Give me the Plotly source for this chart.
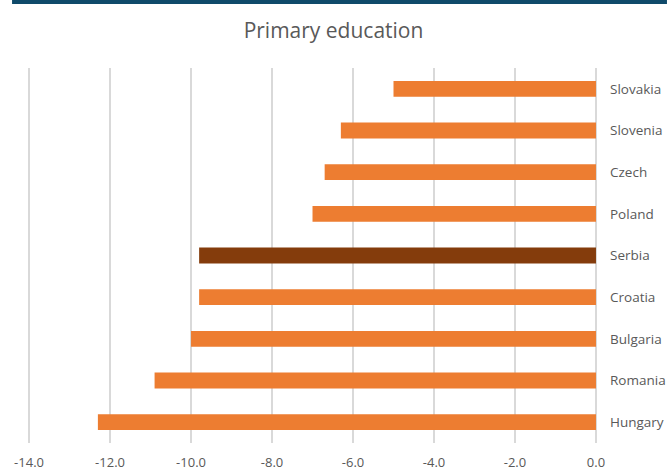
import plotly.graph_objects as go

# Change in primary education, by country (bottom to top)
countries = ["Hungary", "Romania", "Bulgaria", "Croatia", "Serbia",
             "Poland", "Czech", "Slovenia", "Slovakia"]
values = [-12.3, -10.9, -10.0, -9.8, -9.8, -7.0, -6.7, -6.3, -5.0]
highlight = "Serbia"

tick_vals = [-14, -12, -10, -8, -6, -4, -2, 0]
tick_text = ["-14.0", "-12.0", "-10.0", "-8.0", "-6.0", "-4.0", "-2.0", "0.0"]

ORANGE = "#ED7D31"
BROWN = "#843C0C"
TEXT = "#595959"
FONT = "Open Sans, sans-serif"

colors = [BROWN if c == highlight else ORANGE for c in countries]

fig = go.Figure(
    go.Bar(
        x=values,
        y=countries,
        orientation="h",
        marker=dict(color=colors, line=dict(width=0)),
        width=0.38,
    )
)

# x range padded a little so the outer gridlines stay visible
x_lo, x_hi = -14.1, 0.05
px_per_unit = 40.5
left = 29 - (-14 - x_lo) * px_per_unit
right = 667 - (596 + x_hi * px_per_unit)
plot_w = 667 - left - right

fig.update_layout(
    width=667,
    height=472,
    margin=dict(l=left, r=right, t=68, b=29),
    paper_bgcolor="white",
    plot_bgcolor="white",
    showlegend=False,
    title=dict(
        text="Primary education",
        x=0.5,
        xref="container",
        xanchor="center",
        y=0.935,
        yref="container",
        yanchor="middle",
        font=dict(family=FONT, size=21, color=TEXT),
    ),
    font=dict(family=FONT, size=13, color=TEXT),
    xaxis=dict(
        range=[x_lo, x_hi],
        tickvals=tick_vals,
        ticktext=tick_text,
        showgrid=True,
        gridcolor="#D9D9D9",
        gridwidth=1.5,
        zeroline=False,
        showline=False,
        ticks="",
        ticklabelstandoff=10,
        tickfont=dict(size=13, color=TEXT),
        automargin=False,
        fixedrange=True,
    ),
    yaxis=dict(
        side="right",
        categoryorder="array",
        categoryarray=countries,
        showgrid=False,
        zeroline=False,
        showline=False,
        ticks="",
        ticklabelstandoff=11,
        tickfont=dict(size=13.5, color=TEXT),
        automargin=False,
        fixedrange=True,
    ),
    shapes=[
        # dark rule across the top of the page
        dict(
            type="rect",
            xref="paper",
            yref="paper",
            x0=(12 - left) / plot_w,
            x1=(667 - left) / plot_w,
            y0=1 + 64 / 375,
            y1=1 + 68 / 375,
            fillcolor="#0F4A6A",
            line=dict(width=0),
            layer="above",
        )
    ],
)

fig.write_html("out.html")
